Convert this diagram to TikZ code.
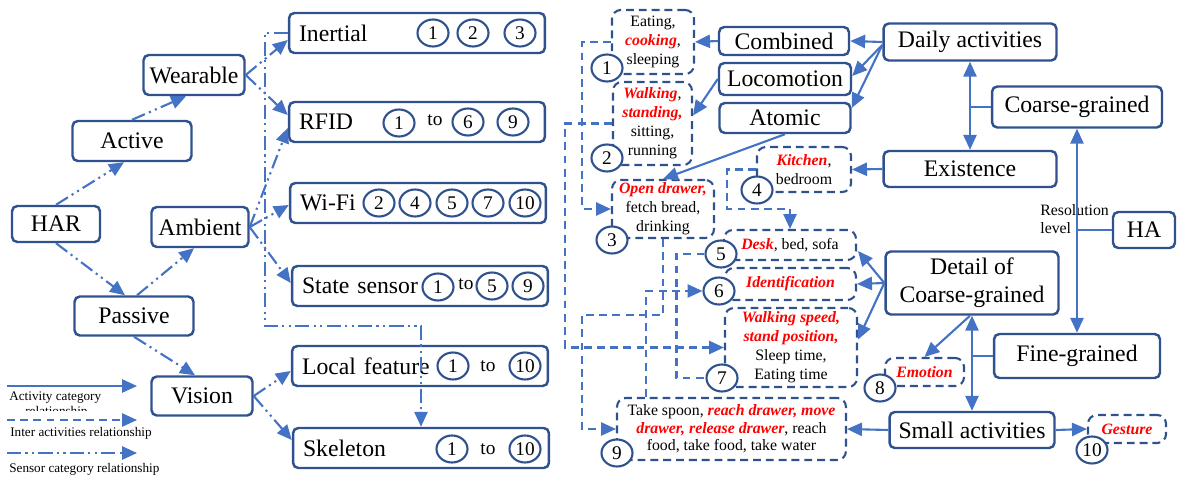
\documentclass[tikz,border=0pt]{standalone}
\usepackage{fontspec}
\setmainfont{Liberation Serif}
\usepackage{xcolor}
\usepackage{tikz}
\usetikzlibrary{arrows.meta,shapes.geometric,calc}
\definecolor{boxblue}{HTML}{2F528F}
\definecolor{lineblue}{HTML}{4472C4}
\definecolor{hired}{HTML}{FF0000}
\newcommand{\redit}[1]{\textcolor{hired}{\bfseries\itshape #1}}

\begin{document}
\begin{tikzpicture}[x=0.02cm, y=-0.02cm,
  box/.style={draw=boxblue, line width=1.4pt, rounded corners=3pt, fill=white, inner sep=1pt, align=center, font=\fontsize{13.5}{16}\selectfont},
  sbox/.style={box, minimum width=5.12cm, minimum height=0.8cm, inner xsep=0.2cm, text width=4.72cm, align=left},
  dbox/.style={draw=boxblue, line width=1.2pt, dash pattern=on 4.5pt off 2.8pt, rounded corners=5pt, inner sep=1pt, align=center, font=\fontsize{9}{10.8}\selectfont},
  num/.style={ellipse, draw=boxblue, line width=1.2pt, fill=white, minimum width=0.62cm, minimum height=0.54cm, inner sep=0pt, font=\fontsize{11}{11}\selectfont},
  numtxt/.style={inner sep=0pt, font=\fontsize{11}{11}\selectfont},
  legtxt/.style={anchor=west, inner sep=0pt, font=\fontsize{7.5}{9}\selectfont},
  arrow/.style={-{Triangle[length=8.5pt,width=7.5pt]}, line width=1.2pt, lineblue},
  darrow/.style={{Triangle[length=8.5pt,width=7.5pt]}-{Triangle[length=8.5pt,width=7.5pt]}, line width=1.2pt, lineblue},
  stub/.style={line width=1.2pt, lineblue},
  rel/.style={arrow, dash pattern=on 4.5pt off 3pt},
  sens/.style={arrow, dash pattern=on 8pt off 2.5pt on 1.2pt off 2.5pt on 1.2pt off 2.5pt}
]
  \useasboundingbox (0,0) rectangle (1178,477);

  % sensing side
  \node[box, minimum width=1.76cm, minimum height=0.72cm] (har) at (56,224) {HAR};
  \node[box, minimum width=2.38cm, minimum height=0.8cm] (active) at (132,141) {Active};
  \node[box, minimum width=2.02cm, minimum height=0.8cm] (wearable) at (194,75) {Wearable};
  \node[box, minimum width=1.94cm, minimum height=0.8cm] (ambient) at (200,227) {Ambient};
  \node[box, minimum width=2.38cm, minimum height=0.78cm] (passive) at (134,316) {Passive};
  \node[box, minimum width=2.02cm, minimum height=0.78cm] (vision) at (202,396) {Vision};

  % sensor categories
  \node[sbox] (inertial) at (417,33) {Inertial};
  \node[num] (in1) at (433,33) {1};
  \node[num] (in2) at (473,33) {2};
  \node[num] (in3) at (520,33) {3};
  \node[sbox] (rfid) at (417,122) {RFID};
  \node[num] (rf1) at (399,123) {1};
  \node[numtxt] (rfto) at (435,120) {to};
  \node[num] (rf6) at (468,122) {6};
  \node[num] (rf9) at (513,122) {9};
  \node[sbox] (wifi) at (418,203) {Wi-Fi};
  \node[num] (wf2) at (379,203) {2};
  \node[num] (wf4) at (415,203) {4};
  \node[num] (wf5) at (452,203) {5};
  \node[num] (wf7) at (488,203) {7};
  \node[num] (wf10) at (525,203) {10};
  \node[sbox] (state) at (420,286) {State sensor};
  \node[num] (st1) at (438,287) {1};
  \node[numtxt] (stto) at (466,284) {to};
  \node[num] (st5) at (492,286) {5};
  \node[num] (st9) at (528,286) {9};
  \node[sbox] (local) at (420,366) {Local feature};
  \node[num] (lf1) at (453,366) {1};
  \node[numtxt] (lfto) at (488,366) {to};
  \node[num] (lf10) at (525,366) {10};
  \node[sbox] (skeleton) at (421,448) {Skeleton};
  \node[num] (sk1) at (452,449) {1};
  \node[numtxt] (skto) at (488,449) {to};
  \node[num] (sk10) at (525,449) {10};

  % activity categories
  \node[box, minimum width=3.46cm, minimum height=0.74cm] (daily) at (970,42) {Daily activities};
  \node[box, minimum width=3.4cm, minimum height=0.82cm] (coarse) at (1077,107) {Coarse-grained};
  \node[box, minimum width=3.46cm, minimum height=0.72cm] (exist) at (970,169) {Existence};
  \node[box, minimum width=1.24cm, minimum height=0.72cm] (ha) at (1144,230) {HA};
  \node[box, minimum width=3.46cm, minimum height=1.26cm] (detail) at (972,283) {Detail of\\Coarse-grained};
  \node[box, minimum width=3.32cm, minimum height=0.88cm] (fine) at (1077,356) {Fine-grained};
  \node[box, minimum width=3.3cm, minimum height=0.72cm] (smallact) at (972,430) {Small activities};
  \node[box, minimum width=2.6cm, minimum height=0.56cm] (combined) at (784,41) {Combined};
  \node[box, minimum width=2.64cm, minimum height=0.64cm] (loco) at (785,79) {Locomotion};
  \node[box, minimum width=2.62cm, minimum height=0.6cm] (atomic) at (785,118) {Atomic};
  \node[anchor=west, align=left, inner sep=0pt, font=\fontsize{9}{10.5}\selectfont] (reslvl) at (1040,219) {Resolution\\level};

  % activity examples
  \node[dbox, minimum width=1.64cm, minimum height=1.28cm] (b1) at (653,42) {Eating,\\\redit{cooking},\\sleeping};
  \node[dbox, minimum width=1.58cm, minimum height=1.66cm] (b2) at (652.5,123.5) {\redit{Walking},\\\redit{standing,}\\sitting,\\running};
  \node[dbox, minimum width=2.04cm, minimum height=1.16cm] (b3) at (663,209) {\redit{Open drawer,}\\fetch bread,\\drinking};
  \node[dbox, minimum width=1.88cm, minimum height=0.9cm] (b4) at (804,169.5) {\redit{Kitchen},\\bedroom};
  \node[dbox, minimum width=2.64cm, minimum height=0.6cm] (b5) at (790,245) {\redit{Desk}, bed, sofa};
  \node[dbox, minimum width=2.62cm, minimum height=0.64cm] (b6) at (790.5,284) {\redit{Identification}};
  \node[dbox, minimum width=2.64cm, minimum height=1.58cm] (b7) at (791,347.5) {\redit{Walking speed,}\\\redit{stand position,}\\Sleep time,\\Eating time};
  \node[dbox, minimum width=1.58cm, minimum height=0.56cm] (b8) at (924.5,372) {\redit{Emotion}};
  \node[dbox, minimum width=4.58cm, minimum height=1.24cm, font=\fontsize{9}{10}\selectfont] (b9) at (731.5,429) {Take spoon, \redit{reach drawer, move}\\\redit{drawer, release drawer}, reach\\food, take food, take water};
  \node[dbox, minimum width=1.56cm, minimum height=0.56cm] (b10) at (1127,429) {\redit{Gesture}};
  \node[num] (c1) at (607,68) {1};
  \node[num] (c2) at (607,158) {2};
  \node[num] (c3) at (612,240) {3};
  \node[num] (c4) at (757,190) {4};
  \node[num] (c5) at (721,254) {5};
  \node[num] (c6) at (719,291) {6};
  \node[num] (c7) at (722,378) {7};
  \node[num] (c8) at (880,388) {8};
  \node[num] (c9) at (617,453) {9};
  \node[num] (c10) at (1092,450) {10};

  % sensor category relationship
  \draw[sens] (har.north) -- ($(active.south)+(-8,0)$);
  \draw[sens] (active.north) -- ($(wearable.south)+(-8,0)$);
  \draw[sens] (har.south) -- ($(passive.north)+(-9,0)$);
  \draw[sens] ($(passive.north)+(3,0)$) -- ($(ambient.south)+(-6,0)$);
  \draw[sens] (passive.south) -- ($(vision.north)+(-7,0)$);
  \draw[sens] (wearable.east) -- ($(inertial.west)+(0,7)$);
  \draw[sens] (wearable.east) -- ($(rfid.west)+(0,-7)$);
  \draw[sens] (ambient.east) -- ($(rfid.west)+(0,6)$);
  \draw[sens] (ambient.east) -- ($(wifi.west)+(0,2)$);
  \draw[sens] (ambient.east) -- ($(state.west)+(0,-3)$);
  \draw[sens] (vision.east) -- ($(local.west)+(0,5)$);
  \draw[sens] (vision.east) -- ($(skeleton.west)+(0,-8)$);
  \draw[sens] (inertial.west) -| (265,326) -| (skeleton.north);

  % activity category relationship
  \draw[arrow] (daily.west) -- (combined.east);
  \draw[arrow] ($(daily.west)+(0,3)$) -- ($(loco.east)+(0,-3)$);
  \draw[arrow] ($(daily.west)+(0,3)$) -- ($(atomic.east)+(0,-10)$);
  \draw[arrow] (combined.west) -- (b1.east);
  \draw[arrow] (loco.west) -- ($(b2.east)+(0,-8)$);
  \draw[arrow] (atomic.south) -- (b3.north);
  \draw[arrow] (exist.west) -- (b4.east);
  \draw[darrow] (daily.south) -- (exist.north);
  \draw[stub] (coarse.west) -- (coarse.west -| daily.south);
  \draw[darrow] (coarse.south) -- (fine.north);
  \draw[stub] (ha.west) -- (ha.west -| coarse.south);
  \draw[darrow] (detail.south) -- (smallact.north);
  \draw[stub] (fine.west) -- (fine.west -| detail.south);
  \draw[arrow] (detail.west) -- ($(b5.east)+(1,6)$);
  \draw[arrow] (detail.west) -- (b6.east);
  \draw[arrow] (detail.west) -- ($(b7.east)+(0,-8)$);
  \draw[arrow] ($(detail.south)+(-2,0)$) -- (b8.north);
  \draw[arrow] (smallact.west) -- (b9.east);
  \draw[arrow] (smallact.east) -- (b10.west);

  % inter activities relationship
  \draw[rel] (b1.west) -- ++(-29,0) |- (b3.west);
  \draw[rel] (b2.west) -- ++(-47,0) |- (b7.west);
  \draw[rel] (b3.south) |- (582,315) |- (b9.west);
  \draw[rel] ($(b9.north west)+(30,0)$) |- (c6.west);
  \draw[rel, -] (c5.west) -- ++(-28,0) |- (c7.west);
  \draw[rel] (b4.west) -- ++(-29,0) |- ($(b5.north)+(0,-20)$) -- (b5.north);

  % legend
  \coordinate (l1a) at (7,386);
  \coordinate (l1b) at (137,386);
  \coordinate (l2a) at (7,420);
  \coordinate (l2b) at (137,420);
  \coordinate (l3a) at (7,453);
  \coordinate (l3b) at (137,453);
  \draw[arrow] (l1a) -- (l1b);
  \draw[rel] (l2a) -- (l2b);
  \draw[sens] (l3a) -- (l3b);
  \node[legtxt] (l1t) at (9,398) {Activity category};
  \begin{scope}
    \clip (0,405) rectangle (160,410);
    \node[legtxt] (l1u) at (25,412) {relationship};
  \end{scope}
  \node[legtxt] (l2t) at (10,433) {Inter activities relationship};
  \node[legtxt] (l3t) at (9,469) {Sensor category relationship};
\end{tikzpicture}
\end{document}
